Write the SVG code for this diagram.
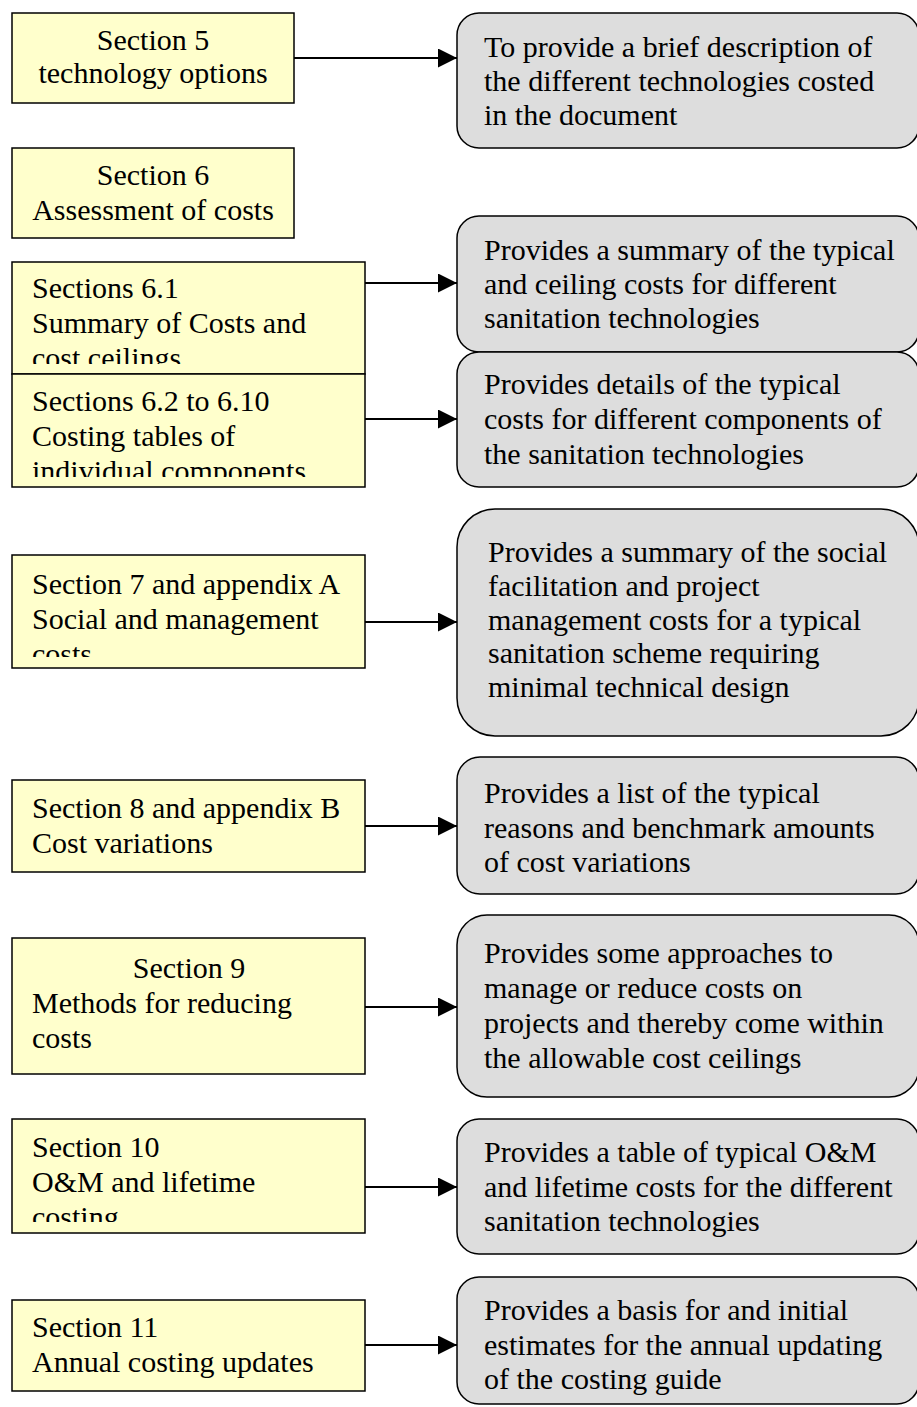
<svg xmlns="http://www.w3.org/2000/svg" width="917" height="1407" viewBox="0 0 917 1407">
<style>
.sec{fill:#FFFFCC;stroke:#000;stroke-width:1.5}
.desc{fill:#DDDDDD;stroke:#000;stroke-width:1.5}
text{font-family:"Liberation Serif","Times New Roman",serif;font-size:30px;fill:#000}
.c{text-anchor:middle}
.conn{stroke:#000;stroke-width:2;fill:none;marker-end:url(#ah)}
</style>
<defs>
<marker id="ah" markerUnits="userSpaceOnUse" markerWidth="19" markerHeight="19" refX="19" refY="9.5" orient="auto">
<path d="M0,0 L19,9.5 L0,19 z" fill="#000"/>
</marker>
<clipPath id="c61"><rect x="12" y="262" width="353" height="102"/></clipPath>
<clipPath id="c62"><rect x="12" y="374" width="353" height="103"/></clipPath>
<clipPath id="c7"><rect x="12" y="555" width="353" height="102"/></clipPath>
<clipPath id="c10"><rect x="12" y="1119" width="353" height="103"/></clipPath>
</defs>

<g id="s5">
<rect class="sec" x="12" y="13" width="282" height="90"/>
<text class="c" x="153" y="50">Section 5</text>
<text class="c" x="153" y="83">technology options</text>
</g>
<g id="s6">
<rect class="sec" x="12" y="148" width="282" height="90"/>
<text class="c" x="153" y="185">Section 6</text>
<text class="c" x="153" y="220">Assessment of costs</text>
</g>
<g id="s61">
<rect class="sec" x="12" y="262" width="353" height="112"/>
<g clip-path="url(#c61)">
<text x="32" y="298">Sections 6.1</text>
<text x="32" y="333">Summary of Costs and</text>
<text x="32" y="368">cost ceilings</text>
</g>
</g>
<g id="s62">
<rect class="sec" x="12" y="374" width="353" height="113"/>
<g clip-path="url(#c62)">
<text x="32" y="411">Sections 6.2 to 6.10</text>
<text x="32" y="446">Costing tables of</text>
<text x="32" y="481">individual components</text>
</g>
</g>
<g id="s7">
<rect class="sec" x="12" y="555" width="353" height="113"/>
<g clip-path="url(#c7)">
<text x="32" y="594">Section 7 and appendix A</text>
<text x="32" y="629">Social and management</text>
<text x="32" y="664">costs</text>
</g>
</g>
<g id="s8">
<rect class="sec" x="12" y="780" width="353" height="92"/>
<text x="32" y="818">Section 8 and appendix B</text>
<text x="32" y="853">Cost variations</text>
</g>
<g id="s9">
<rect class="sec" x="12" y="938" width="353" height="136"/>
<text class="c" x="189" y="978">Section 9</text>
<text x="32" y="1013">Methods for reducing</text>
<text x="32" y="1048">costs</text>
</g>
<g id="s10">
<rect class="sec" x="12" y="1119" width="353" height="114"/>
<g clip-path="url(#c10)">
<text x="32" y="1157">Section 10</text>
<text x="32" y="1192">O&amp;M and lifetime</text>
<text x="32" y="1227">costing</text>
</g>
</g>
<g id="s11">
<rect class="sec" x="12" y="1300" width="353" height="91"/>
<text x="32" y="1337">Section 11</text>
<text x="32" y="1372">Annual costing updates</text>
</g>

<g id="d1">
<rect class="desc" x="457" y="13" width="462" height="135" rx="22" ry="22"/>
<text x="484" y="57">To provide a brief description of</text>
<text x="484" y="91">the different technologies costed</text>
<text x="484" y="125">in the document</text>
</g>
<g id="d2">
<rect class="desc" x="457" y="216" width="462" height="136" rx="22" ry="22"/>
<text x="484" y="260">Provides a summary of the typical</text>
<text x="484" y="294">and ceiling costs for different</text>
<text x="484" y="328">sanitation technologies</text>
</g>
<g id="d3">
<rect class="desc" x="457" y="352" width="462" height="135" rx="22" ry="22"/>
<text x="484" y="394">Provides details of the typical</text>
<text x="484" y="429">costs for different components of</text>
<text x="484" y="464">the sanitation technologies</text>
</g>
<g id="d4">
<rect class="desc" x="457" y="509" width="462" height="227" rx="38" ry="38"/>
<text x="488" y="562">Provides a summary of the social</text>
<text x="488" y="596">facilitation and project</text>
<text x="488" y="630">management costs for a typical</text>
<text x="488" y="663">sanitation scheme requiring</text>
<text x="488" y="697">minimal technical design</text>
</g>
<g id="d5">
<rect class="desc" x="457" y="757" width="462" height="137" rx="23" ry="23"/>
<text x="484" y="803">Provides a list of the typical</text>
<text x="484" y="838">reasons and benchmark amounts</text>
<text x="484" y="872">of cost variations</text>
</g>
<g id="d6">
<rect class="desc" x="457" y="915" width="462" height="182" rx="30" ry="30"/>
<text x="484" y="963">Provides some approaches to</text>
<text x="484" y="998">manage or reduce costs on</text>
<text x="484" y="1033">projects and thereby come within</text>
<text x="484" y="1068">the allowable cost ceilings</text>
</g>
<g id="d7">
<rect class="desc" x="457" y="1119" width="462" height="135" rx="22" ry="22"/>
<text x="484" y="1162">Provides a table of typical O&amp;M</text>
<text x="484" y="1197">and lifetime costs for the different</text>
<text x="484" y="1231">sanitation technologies</text>
</g>
<g id="d8">
<rect class="desc" x="457" y="1277" width="462" height="127" rx="22" ry="22"/>
<text x="484" y="1320">Provides a basis for and initial</text>
<text x="484" y="1355">estimates for the annual updating</text>
<text x="484" y="1389">of the costing guide</text>
</g>

<g id="connectors">
<line class="conn" x1="294" y1="58" x2="457" y2="58"/>
<line class="conn" x1="365" y1="283" x2="457" y2="283"/>
<line class="conn" x1="365" y1="419" x2="457" y2="419"/>
<line class="conn" x1="365" y1="622" x2="457" y2="622"/>
<line class="conn" x1="365" y1="826" x2="457" y2="826"/>
<line class="conn" x1="365" y1="1007" x2="457" y2="1007"/>
<line class="conn" x1="365" y1="1187" x2="457" y2="1187"/>
<line class="conn" x1="365" y1="1345" x2="457" y2="1345"/>
</g>
</svg>
